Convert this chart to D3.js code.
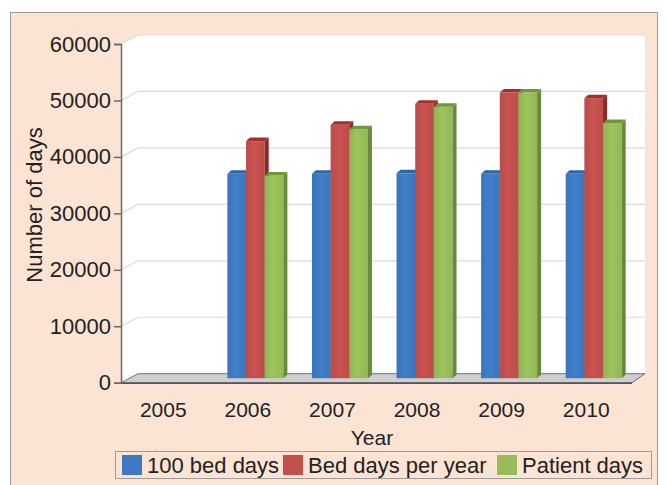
<!DOCTYPE html>
<html>
<head>
<meta charset="utf-8">
<script src="https://cdn.jsdelivr.net/npm/d3@7"></script>
<style>
html,body{margin:0;padding:0;background:#ffffff;}
svg{display:block;font-family:"Liberation Sans",Arial,sans-serif;}
</style>
</head>
<body>
<svg id="chart" width="668" height="485"></svg>
<script>
// ---- data ----
const years = ["2005", "2006", "2007", "2008", "2009", "2010"];
const bedDays100 = [null, 36200, 36200, 36300, 36200, 36200];
const bedDaysPerYear = [null, 42000, 44900, 48600, 50600, 49600];
const patientDays = [null, 35900, 44100, 48100, 50600, 45200];
const seriesNames = ["100 bed days", "Bed days per year", "Patient days"];
const yTicks = [0, 10000, 20000, 30000, 40000, 50000, 60000];
const xTitle = "Year";
const yTitle = "Number of days";

// ---- style ----
const cols = [
  {front: "#3d7ac2", top: "#2f64a6", side: "#2a5690"},
  {front: "#c2504d", top: "#a2302d", side: "#8a2a27"},
  {front: "#97bd58", top: "#74963a", side: "#698a3a"}
];
const svg = d3.select("#chart");

// frame background
svg.append("rect").attr("x", 10.5).attr("y", 12.5).attr("width", 647).attr("height", 480)
  .attr("fill", "#fce4d4").attr("stroke", "#9c9c9c").attr("stroke-width", 1);

const x0 = 121, x1 = 628.5;      // front plane category range
const depthX = 17, depthY = -9;  // wall depth
const y = d3.scaleLinear().domain([0, 60000]).range([382.7, 44]);
const x = d3.scaleBand().domain(years).range([x0, x1]).paddingInner(0).paddingOuter(0);
const groupW = 56;
const xs = d3.scaleBand().domain(d3.range(3)).range([0, groupW]);
const midX = 7.5, midY = -4.5;   // bars stand at mid depth
const barDX = 4, barDY = -3.5;   // bar depth

const floorRight = x1 + 3.5;
const wallRight = floorRight + 13;

// walls (side + back) white
svg.append("path")
  .attr("d", d3.line()([
    [x0, y(60000)], [x0 + depthX, y(60000) + depthY], [wallRight, y(60000) + depthY],
    [wallRight, y(0) + depthY], [x0 + depthX, y(0) + depthY], [x0, y(0)]
  ]) + "Z")
  .attr("fill", "#ffffff");

// gridlines
yTicks.filter(t => t > 0).forEach(t => {
  svg.append("path")
    .attr("d", d3.line()([[x0, y(t)], [x0 + depthX, y(t) + depthY], [wallRight, y(t) + depthY]]))
    .attr("fill", "none").attr("stroke", "#dadada").attr("stroke-width", 1.2);
});

// floor
svg.append("path")
  .attr("d", d3.line()([[x0, y(0)], [floorRight, y(0)], [wallRight, y(0) + depthY], [x0 + depthX, y(0) + depthY]]) + "Z")
  .attr("fill", "#cdced1").attr("stroke", "#707070").attr("stroke-width", 1);
svg.append("line").attr("x1", x0).attr("x2", floorRight).attr("y1", y(0) + 0.5).attr("y2", y(0) + 0.5)
  .attr("stroke", "#555555").attr("stroke-width", 1.6);

// gradients for fronts
const defs = svg.append("defs");
cols.forEach((c, i) => {
  const g = defs.append("linearGradient").attr("id", "g" + i).attr("x1", "0").attr("x2", "1").attr("y1", "0").attr("y2", "0");
  g.append("stop").attr("offset", "0").attr("stop-color", d3.color(c.front).darker(0.15));
  g.append("stop").attr("offset", "0.45").attr("stop-color", d3.color(c.front).brighter(0.12));
  g.append("stop").attr("offset", "1").attr("stop-color", d3.color(c.front).darker(0.1));
});

// bars
const series = [bedDays100, bedDaysPerYear, patientDays];
years.forEach((yr, i) => {
  const gx = x(yr) + x.bandwidth() / 2 + midX - groupW / 2;
  series.forEach((s, k) => {
    const v = s[i];
    if (v == null) return;
    const bx = gx + xs(k), bw = xs.bandwidth();
    const top = y(v) + midY, bot = y(0) + midY;
    const c = cols[k];
    const g = svg.append("g");
    g.append("rect").attr("x", bx).attr("y", top).attr("width", bw).attr("height", bot - top)
      .attr("fill", "url(#g" + k + ")");
    g.append("path").attr("d", d3.line()([[bx, top], [bx + bw, top], [bx + bw + barDX, top + barDY], [bx + barDX, top + barDY]]) + "Z")
      .attr("fill", c.top);
    g.append("path").attr("d", d3.line()([[bx + bw, top], [bx + bw + barDX, top + barDY], [bx + bw + barDX, bot + barDY], [bx + bw, bot]]) + "Z")
      .attr("fill", c.side);
  });
});

const FF = "Liberation Sans, Arial, sans-serif";
// y axis
const yAxis = d3.axisLeft(y).tickValues(yTicks).tickSize(7).tickPadding(3).tickFormat(d3.format("d"));
const ya = svg.append("g").attr("transform", `translate(${x0},0)`).call(yAxis);
ya.select(".domain").attr("stroke", "#6a6a6a").attr("stroke-width", 1.5);
ya.selectAll(".tick line").attr("stroke", "#6a6a6a").attr("stroke-width", 1.5);
ya.selectAll(".tick text").attr("font-size", 22).attr("fill", "#222").attr("font-family", FF);

// x axis labels
const xAxis = d3.axisBottom(x).tickSize(0).tickPadding(0);
const xa = svg.append("g").attr("transform", `translate(0,${y(0) + 19})`).call(xAxis);
xa.select(".domain").remove();
xa.selectAll(".tick text").attr("font-size", 21).attr("fill", "#222").attr("font-family", FF);

// titles
svg.append("text").attr("x", 372).attr("y", 445).attr("text-anchor", "middle")
  .attr("font-size", 21).attr("fill", "#222").text(xTitle);
svg.append("text").attr("transform", "translate(42,205) rotate(-90)").attr("text-anchor", "middle")
  .attr("font-size", 22).attr("fill", "#222").text(yTitle);

// legend
svg.append("rect").attr("x", 115.5).attr("y", 451.5).attr("width", 536).attr("height", 27)
  .attr("fill", "#fce4d4").attr("stroke", "#9c9c9c").attr("stroke-width", 1);
const legX = [122, 283, 497];
seriesNames.forEach((n, k) => {
  svg.append("rect").attr("x", legX[k]).attr("y", 455).attr("width", 20).attr("height", 20).attr("fill", cols[k].front);
  svg.append("text").attr("x", legX[k] + 25).attr("y", 473).attr("font-size", 22).attr("fill", "#222").text(n);
});
</script>
</body>
</html>
